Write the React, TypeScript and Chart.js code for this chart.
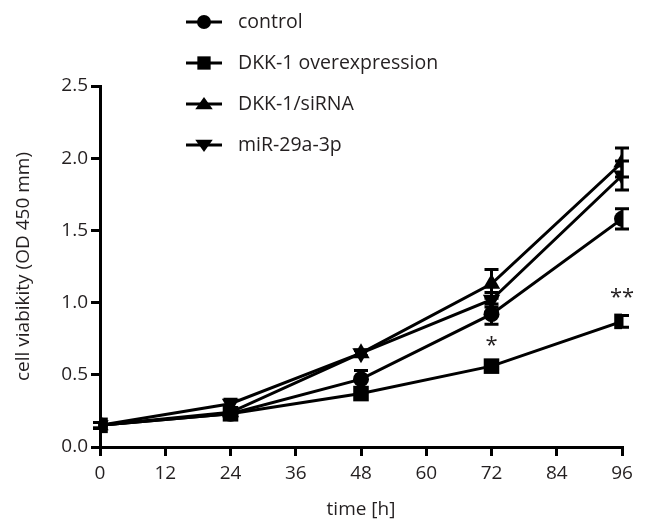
import React, { useEffect, useRef } from "react";
import { Chart, registerables } from "chart.js";

Chart.register(...registerables);

const times = [0, 24, 48, 72, 96];
const xTicks = [0, 12, 24, 36, 48, 60, 72, 84, 96];
const seriesNames = ["control", "DKK-1 overexpression", "DKK-1/siRNA", "miR-29a-3p"];
const control = [0.15, 0.23, 0.47, 0.92, 1.58];
const controlErr = [0.02, 0.02, 0.06, 0.07, 0.07];
const dkkOver = [0.15, 0.23, 0.37, 0.56, 0.87];
const dkkOverErr = [0.02, 0.02, 0.03, 0.02, 0.04];
const dkkSi = [0.15, 0.24, 0.65, 1.13, 1.97];
const dkkSiErr = [0.02, 0.02, 0.02, 0.1, 0.1];
const mir = [0.15, 0.3, 0.65, 1.02, 1.88];
const mirErr = [0.02, 0.03, 0.02, 0.05, 0.1];
const sigMarks = [
  { x: 72, label: "*" },
  { x: 96, label: "**" },
];

const FONT = "'Open Sans', sans-serif";
const TXT = "#231f20";

function drawMarker(ctx: CanvasRenderingContext2D, style: string, rot: number, x: number, y: number, r: number) {
  ctx.save();
  ctx.fillStyle = "#000";
  ctx.beginPath();
  if (style === "circle") {
    ctx.arc(x, y, r, 0, Math.PI * 2);
  } else if (style === "rect") {
    const s = r * 0.95;
    ctx.rect(x - s, y - s, s * 2, s * 2);
  } else {
    const dir = rot === 180 ? -1 : 1;
    const h = r * 1.5;
    ctx.moveTo(x, y - dir * h * 0.66);
    ctx.lineTo(x + r * 1.25, y + dir * h * 0.5);
    ctx.lineTo(x - r * 1.25, y + dir * h * 0.5);
    ctx.closePath();
  }
  ctx.fill();
  ctx.restore();
}

const errPlugin = {
  id: "errbars",
  afterDatasetsDraw(chart: any) {
    const ctx = chart.ctx;
    const xs = chart.scales.x;
    const ys = chart.scales.y;
    ctx.save();
    ctx.strokeStyle = "#000";
    ctx.lineWidth = 3;
    chart.data.datasets.forEach((ds: any) => {
      const err = ds.err as number[];
      ds.data.forEach((p: any, i: number) => {
        const e = err[i];
        if (!e) return;
        const px = xs.getPixelForValue(p.x);
        const yt = ys.getPixelForValue(p.y + e);
        const yb = ys.getPixelForValue(p.y - e);
        ctx.beginPath();
        ctx.moveTo(px, yt);
        ctx.lineTo(px, yb);
        ctx.moveTo(px - 7, yt);
        ctx.lineTo(px + 7, yt);
        ctx.moveTo(px - 7, yb);
        ctx.lineTo(px + 7, yb);
        ctx.stroke();
      });
    });
    ctx.fillStyle = TXT;
    ctx.font = `22px ${FONT}`;
    ctx.textAlign = "center";
    ctx.textBaseline = "middle";
    sigMarks.forEach((m) => {
      const idx = times.indexOf(m.x);
      const px = xs.getPixelForValue(m.x);
      const py = ys.getPixelForValue(dkkOver[idx] + dkkOverErr[idx]);
      ctx.fillText(m.label, px, py - 18);
    });
    ctx.restore();
  },
  afterDraw(chart: any) {
    const ctx = chart.ctx;
    ctx.save();
    chart.data.datasets.forEach((ds: any, i: number) => {
      const y = 22 + i * 41;
      ctx.strokeStyle = "#000";
      ctx.lineWidth = 3;
      ctx.beginPath();
      ctx.moveTo(186, y);
      ctx.lineTo(222, y);
      ctx.stroke();
      drawMarker(ctx, ds.pointStyle, ds.pointRotation || 0, 204, y, 7);
      ctx.fillStyle = TXT;
      ctx.font = `19.5px ${FONT}`;
      ctx.textAlign = "left";
      ctx.textBaseline = "middle";
      ctx.fillText(ds.label, 238, y);
    });
    ctx.restore();
  },
};

function mk(name: string, vals: number[], err: number[], style: string, rot = 0, radius = 7) {
  return {
    label: name,
    data: times.map((t, i) => ({ x: t, y: vals[i] })),
    err,
    borderColor: "#000",
    backgroundColor: "#000",
    borderWidth: 3,
    pointStyle: style,
    pointRotation: rot,
    pointRadius: radius,
    pointBorderWidth: 0,
    pointBackgroundColor: "#000",
    tension: 0,
  };
}

export default function App() {
  const ref = useRef<HTMLCanvasElement>(null);
  useEffect(() => {
    if (!ref.current) return;
    const chart = new Chart(ref.current, {
      type: "line",
      data: {
        datasets: [
          mk(seriesNames[0], control, controlErr, "circle", 0, 8),
          mk(seriesNames[1], dkkOver, dkkOverErr, "rect", 0, 11),
          mk(seriesNames[2], dkkSi, dkkSiErr, "triangle", 0, 10),
          mk(seriesNames[3], mir, mirErr, "triangle", 180, 10),
        ] as any,
      },
      options: {
        animation: false,
        responsive: false,
        layout: { padding: { top: 86, right: 24, left: 8, bottom: 0 } },
        plugins: { legend: { display: false }, tooltip: { enabled: false } },
        scales: {
          x: {
            type: "linear",
            min: 0,
            max: 96,
            afterBuildTicks: (s: any) => {
              s.ticks = xTicks.map((v) => ({ value: v }));
            },
            afterFit: (s: any) => {
              s.height = 78;
            },
            grid: { display: true, drawOnChartArea: false, drawTicks: true, tickLength: 9, color: "#000", lineWidth: 3 },
            border: { display: true, color: "#000", width: 3 },
            ticks: { color: TXT, font: { family: FONT, size: 19 }, padding: 6, maxRotation: 0 },
            title: { display: true, text: "time [h]", color: TXT, font: { family: FONT, size: 19 }, padding: { top: 10 } },
          },
          y: {
            type: "linear",
            min: 0,
            max: 2.5,
            afterFit: (s: any) => {
              s.width = 92;
            },
            grid: { display: true, drawOnChartArea: false, drawTicks: true, tickLength: 9, color: "#000", lineWidth: 3 },
            border: { display: true, color: "#000", width: 3 },
            ticks: {
              stepSize: 0.5,
              color: TXT,
              font: { family: FONT, size: 19 },
              padding: 3,
              callback: (v: any) => Number(v).toFixed(1),
            },
            title: { display: true, text: "cell viabikity (OD 450 mm)", color: TXT, font: { family: FONT, size: 19 }, padding: { bottom: 4 } },
          },
        },
      },
      plugins: [errPlugin],
    } as any);
    return () => chart.destroy();
  }, []);
  return (
    <div style={{ position: "fixed", left: 0, top: 0, width: 646, height: 525, background: "#fff" }}>
      <canvas ref={ref} width={646} height={525} style={{ width: 646, height: 525 }} />
    </div>
  );
}
